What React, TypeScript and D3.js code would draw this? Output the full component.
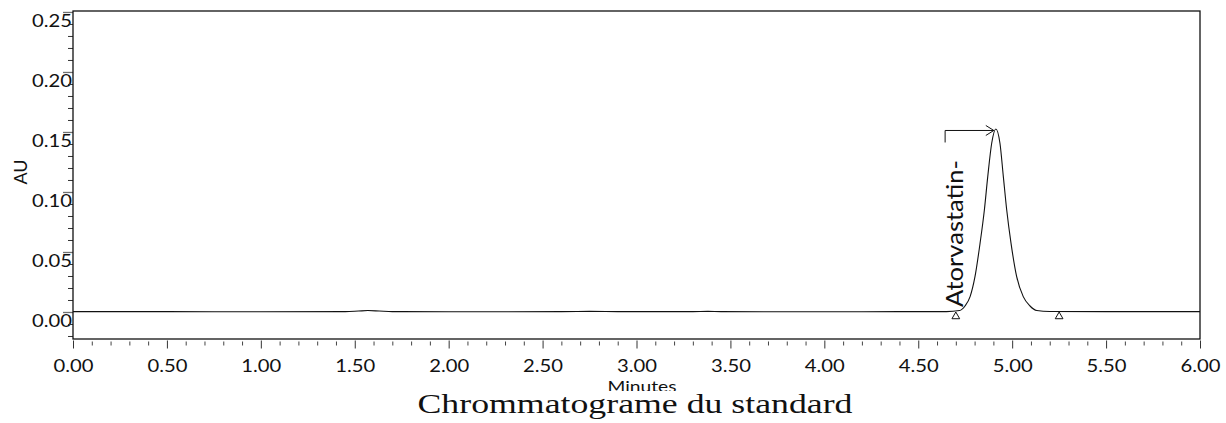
import React, { useEffect, useRef } from 'react';
import * as d3 from 'd3';

// chromatogram trace (minutes, AU)
const times = [
    0.00, 0.50, 1.00, 1.45, 1.52, 1.57, 1.63, 1.70, 2.00, 2.60, 2.75, 2.90,
    3.30, 3.38, 3.45, 4.00, 4.40, 4.65, 4.72, 4.749, 4.776, 4.802, 4.829,
    4.852, 4.870, 4.891, 4.913, 4.935, 4.953, 4.971, 4.994, 5.024, 5.059,
    5.095, 5.131, 5.20, 5.50, 5.80, 6.00
];
const absorbance = [
    0.0003, 0.0003, 0.0002, 0.0003, 0.0008, 0.0012, 0.0008, 0.0003, 0.0002, 0.0003, 0.0005, 0.0003,
    0.0003, 0.0005, 0.0003, 0.0002, 0.0003, 0.0003, 0.0012, 0.005, 0.0128, 0.0294, 0.0572,
    0.085, 0.1128, 0.1406, 0.1525, 0.1406, 0.1128, 0.085, 0.0572, 0.0294, 0.0128,
    0.005, 0.0012, 0.0004, 0.0003, 0.0003, 0.0003
];

// integration marks (peak start / end)
const markerTimes = [4.70, 5.25];

// peak label
const peakNames = ['Atorvastatin-'];
const peakTimes = [4.913];
const peakHeights = [0.1525];
const labelTimes = [4.643];

const xMajor = [0, 0.5, 1, 1.5, 2, 2.5, 3, 3.5, 4, 4.5, 5, 5.5, 6];
const xMinor = d3.range(0, 61).map(i => i / 10).filter(v => Math.round(v * 10) % 5 !== 0);
const yMajor = [0, 0.05, 0.10, 0.15, 0.20, 0.25];
const yMinor = d3.range(-2, 26).map(i => i / 100).filter(v => Math.round(v * 100) % 5 !== 0);

const xTitle = 'Minutes';
const yTitle = 'AU';
const caption = 'Chrommatograme du standard';

const Chromatogram = ({ width, height }) => {
    const svgRef = useRef(null);

    useEffect(() => {
        const svg = d3.select(svgRef.current);
        svg.selectAll('*').remove();

        const left = 73, right = 1200, top = 11, bottom = 339;
        const font = 'Lato, "Open Sans", sans-serif';

        const x = d3.scaleLinear().domain([0, 6]).range([left, right]);
        const y = d3.scaleLinear().domain([-0.0225, 0.2508]).range([bottom, top]);

        // y axis
        const yMajorG = svg.append('g')
            .attr('transform', `translate(${left},0)`)
            .call(d3.axisLeft(y).tickValues(yMajor).tickSize(10).tickPadding(-9).tickFormat(d3.format('.2f')));
        yMajorG.select('.domain').remove();
        yMajorG.selectAll('line').attr('stroke', '#707070').attr('stroke-width', 1.3);
        yMajorG.selectAll('text')
            .attr('dy', 15)
            .attr('font-family', font)
            .attr('font-size', 17)
            .attr('fill', '#111')
            .attr('textLength', 40)
            .attr('lengthAdjust', 'spacingAndGlyphs');

        const yMinorG = svg.append('g')
            .attr('transform', `translate(${left},0)`)
            .call(d3.axisLeft(y).tickValues(yMinor).tickSize(5).tickFormat(() => ''));
        yMinorG.select('.domain').remove();
        yMinorG.selectAll('line').attr('stroke', '#333');

        // x axis
        const xMajorG = svg.append('g')
            .attr('transform', `translate(0,${bottom + 1.5})`)
            .call(d3.axisBottom(x).tickValues(xMajor).tickSize(8).tickFormat(d3.format('.2f')));
        xMajorG.select('.domain').remove();
        xMajorG.selectAll('line').attr('stroke', '#333');
        xMajorG.selectAll('text')
            .attr('y', 31.5)
            .attr('dy', 0)
            .attr('font-family', font)
            .attr('font-size', 17)
            .attr('fill', '#111')
            .attr('textLength', 40)
            .attr('lengthAdjust', 'spacingAndGlyphs');

        const xMinorG = svg.append('g')
            .attr('transform', `translate(0,${bottom + 2.5})`)
            .call(d3.axisBottom(x).tickValues(xMinor).tickSize(4).tickFormat(() => ''));
        xMinorG.select('.domain').remove();
        xMinorG.selectAll('line').attr('stroke', '#444');

        // frame
        svg.append('rect')
            .attr('x', left)
            .attr('y', top)
            .attr('width', right - left)
            .attr('height', bottom - top)
            .attr('fill', 'none')
            .attr('stroke', '#111')
            .attr('stroke-width', 1.3);

        // trace
        const points = times.map((t, i) => [t, absorbance[i]]);
        const line = d3.line()
            .x(d => x(d[0]))
            .y(d => y(d[1]))
            .curve(d3.curveMonotoneX);

        svg.append('path')
            .datum(points)
            .attr('fill', 'none')
            .attr('stroke', '#111')
            .attr('stroke-width', 1.1)
            .attr('d', line);

        // integration triangles
        const tri = d3.symbol().type(d3.symbolTriangle).size(26);
        svg.selectAll('.mark')
            .data(markerTimes)
            .enter()
            .append('path')
            .attr('class', 'mark')
            .attr('d', tri)
            .attr('transform', d => `translate(${x(d)},${y(0) + 4.5})`)
            .attr('fill', 'white')
            .attr('stroke', '#111')
            .attr('stroke-width', 1);

        // peak annotation
        peakNames.forEach((name, i) => {
            const px = x(peakTimes[i]);
            const py = y(peakHeights[i]) + 1.5;
            const lx = x(labelTimes[i]);

            svg.append('path')
                .attr('d', `M${lx},${py + 12}V${py}H${px - 2}`)
                .attr('fill', 'none')
                .attr('stroke', '#111')
                .attr('stroke-width', 1);
            svg.append('path')
                .attr('d', `M${px - 10},${py - 5}L${px - 2},${py}L${px - 10},${py + 5}`)
                .attr('fill', 'none')
                .attr('stroke', '#111')
                .attr('stroke-width', 1);

            svg.append('text')
                .attr('transform', `translate(${lx + 18},${y(0) - 5}) rotate(-90)`)
                .attr('font-family', font)
                .attr('font-size', 24)
                .attr('fill', '#111')
                .attr('textLength', 147)
                .attr('lengthAdjust', 'spacingAndGlyphs')
                .text(name);
        });

        // axis titles
        svg.append('text')
            .attr('transform', `translate(27,${172}) rotate(-90)`)
            .attr('text-anchor', 'middle')
            .attr('font-family', font)
            .attr('font-size', 18)
            .attr('fill', '#111')
            .text(yTitle);

        svg.append('text')
            .attr('x', 642)
            .attr('y', 392)
            .attr('text-anchor', 'middle')
            .attr('font-family', font)
            .attr('font-size', 16)
            .attr('fill', '#111')
            .attr('textLength', 69)
            .attr('lengthAdjust', 'spacingAndGlyphs')
            .text(xTitle);

        // caption box hides the bottom of "Minutes"
        svg.append('rect')
            .attr('x', 400)
            .attr('y', 391)
            .attr('width', 480)
            .attr('height', 32)
            .attr('fill', 'white');

        svg.append('text')
            .attr('x', 635)
            .attr('y', 413)
            .attr('text-anchor', 'middle')
            .attr('font-family', '"Liberation Serif", "DejaVu Serif", serif')
            .attr('font-size', 27)
            .attr('fill', '#111')
            .attr('textLength', 435)
            .attr('lengthAdjust', 'spacingAndGlyphs')
            .text(caption);

        svg.attr('width', width);
        svg.attr('height', height);
    }, [width, height]);

    return <svg ref={svgRef} width={width} height={height} style={{ position: 'absolute', left: 0, top: 0, background: 'white' }} />;
};

export default function App() {
    return <Chromatogram width={1226} height={423} />;
}
